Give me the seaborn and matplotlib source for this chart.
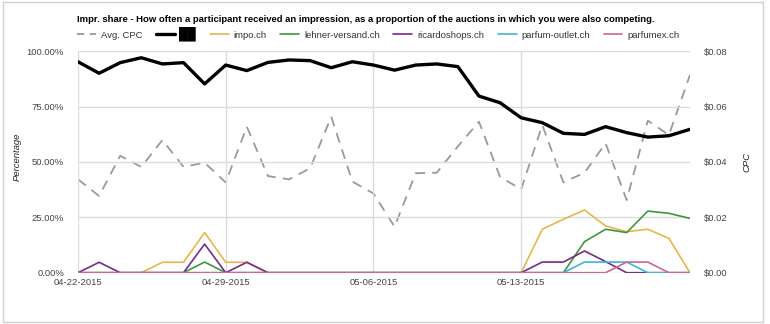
import numpy as np
import pandas as pd
import seaborn as sns
import matplotlib
matplotlib.use("Agg")
import matplotlib.pyplot as plt
from matplotlib.lines import Line2D
from matplotlib.patches import Rectangle

# ---------------- data ----------------
dates = pd.date_range("2015-04-22", "2015-05-21", freq="D")
tick_dates = ["04-22-2015", "04-29-2015", "05-06-2015", "05-13-2015"]

avg_cpc = [0.0337, 0.0277, 0.0422, 0.0382, 0.0479, 0.0382, 0.0397, 0.0326, 0.0527, 0.0349,
           0.0337, 0.0377, 0.0563, 0.0329, 0.0286, 0.0166, 0.0359, 0.0361, 0.0456, 0.0545,
           0.0346, 0.0301, 0.0533, 0.0326, 0.0361, 0.0467, 0.0262, 0.0549, 0.0497, 0.0714]

redacted = [95.2, 90.0, 94.8, 97.0, 94.2, 94.8, 85.2, 93.7, 91.2, 94.9,
            96.0, 95.7, 92.5, 95.2, 93.7, 91.4, 93.7, 94.2, 93.0, 79.7,
            76.7, 69.9, 67.7, 62.9, 62.4, 65.9, 63.2, 61.2, 61.8, 64.7]

impo = [0, 0, 0, 0, 4.7, 4.7, 18.1, 4.7, 4.7, 0,
        0, 0, 0, 0, 0, 0, 0, 0, 0, 0,
        0, 0, 19.6, 24.1, 28.3, 21.1, 18.5, 19.6, 15.5, 0]

lehner = [0, 0, 0, 0, 0, 0, 4.8, 0, 0, 0,
          0, 0, 0, 0, 0, 0, 0, 0, 0, 0,
          0, 0, 0, 0, 14.0, 19.6, 18.1, 27.8, 26.8, 24.5]

ricardo = [0, 4.7, 0, 0, 0, 0, 12.9, 0, 4.7, 0,
           0, 0, 0, 0, 0, 0, 0, 0, 0, 0,
           0, 0, 4.8, 4.8, 9.8, 5.0, 0, 0, 0, 0]

outlet = [0, 0, 0, 0, 0, 0, 0, 0, 0, 0,
          0, 0, 0, 0, 0, 0, 0, 0, 0, 0,
          0, 0, 0, 0, 4.8, 4.8, 4.8, 0, 0, 0]

parfumex = [0, 0, 0, 0, 0, 0, 0, 0, 0, 0,
            0, 0, 0, 0, 0, 0, 0, 0, 0, 0,
            0, 0, 0, 0, 0, 0, 4.8, 4.8, 0, 0]

series_names = ["Avg. CPC", "\u2588\u2588", "impo.ch", "lehner-versand.ch",
                "ricardoshops.ch", "parfum-outlet.ch", "parfumex.ch"]

title = ("Impr. share - How often a participant received an impression, "
         "as a proportion of the auctions in which you were also competing.")

# ---------------- style ----------------
sns.set_theme(style="white")
plt.rcParams["font.family"] = ["Liberation Sans", "DejaVu Sans"]
FS = 6.8

W, H = 770, 324
fig = plt.figure(figsize=(W / 100, H / 100), dpi=100)
ax = fig.add_axes([78 / W, 51.3 / H, 612 / W, 221.6 / H])
ax2 = ax.twinx()

x = np.arange(len(dates))
colors = {
    "cpc": "#9a9a9a",
    "red": "#000000",
    "impo": "#e9b54c",
    "lehner": "#3d993d",
    "ricardo": "#7a2a87",
    "outlet": "#3fb6d6",
    "parfumex": "#d06596",
}

# axes, ticks, gridlines
ax.set_ylim(0, 100)
ax.set_xlim(0, len(dates) - 1)
ax2.set_ylim(0, 0.08)
ax.set_yticks([0, 25, 50, 75, 100])
ax.set_yticklabels(["0.00%", "25.00%", "50.00%", "75.00%", "100.00%"])
ax2.set_yticks([0, 0.02, 0.04, 0.06, 0.08])
ax2.set_yticklabels(["$0.00", "$0.02", "$0.04", "$0.06", "$0.08"])
ax.set_xticks([0, 7, 14, 21])
ax.set_xticklabels(tick_dates)
ax.grid(True, color="#dcdcdc", linewidth=1)
ax2.grid(False)
for a in (ax, ax2):
    for s in a.spines.values():
        s.set_visible(False)
ax.tick_params(axis="both", length=0, labelsize=FS, labelcolor="#444444")
ax.tick_params(axis="y", pad=10)
ax.tick_params(axis="x", pad=4)
ax2.tick_params(axis="y", length=0, labelsize=FS, labelcolor="#444444", pad=10)

# avg cpc on the right axis (drawn behind)
sns.lineplot(x=x, y=avg_cpc, ax=ax2, color=colors["cpc"], linewidth=1.3,
             linestyle=(0, (5.5, 4)), legend=False)
ax.set_zorder(ax2.get_zorder() + 1)
ax.patch.set_visible(False)

lw = 1.2
sns.lineplot(x=x, y=impo, ax=ax, color=colors["impo"], linewidth=lw, legend=False)
sns.lineplot(x=x, y=lehner, ax=ax, color=colors["lehner"], linewidth=lw, legend=False)
sns.lineplot(x=x, y=ricardo, ax=ax, color=colors["ricardo"], linewidth=lw, legend=False)
sns.lineplot(x=x, y=outlet, ax=ax, color=colors["outlet"], linewidth=lw, legend=False)
sns.lineplot(x=x, y=parfumex, ax=ax, color=colors["parfumex"], linewidth=lw, legend=False)
sns.lineplot(x=x, y=redacted, ax=ax, color=colors["red"], linewidth=2.4, legend=False)
ax.set_xlabel("")
ax.set_ylabel("")
ax2.set_ylabel("")

# axis titles
fig.text(17 / W, 1 - 157 / H, "Percentage", rotation=90, style="italic",
         fontsize=FS, color="#222222", ha="center", va="center")
fig.text(747 / W, 1 - 162 / H, "CPC", rotation=90, style="italic",
         fontsize=FS, color="#222222", ha="center", va="center")

# title
fig.text(77 / W, 1 - 19 / H, title, fontsize=FS, fontweight="bold",
         color="#000000", ha="left", va="center")

# legend
handles = [
    Line2D([], [], color=colors["cpc"], linewidth=1.3, linestyle=(0, (4, 3))),
    Line2D([], [], color=colors["red"], linewidth=2.4),
    Line2D([], [], color=colors["impo"], linewidth=1.2),
    Line2D([], [], color=colors["lehner"], linewidth=1.2),
    Line2D([], [], color=colors["ricardo"], linewidth=1.2),
    Line2D([], [], color=colors["outlet"], linewidth=1.2),
    Line2D([], [], color=colors["parfumex"], linewidth=1.2),
]
leg = fig.legend(handles, series_names, loc="center left",
                 bbox_to_anchor=(77 / W, 1 - 34 / H), ncol=7, frameon=False,
                 fontsize=FS, handlelength=2.0, handletextpad=0.5,
                 columnspacing=1.45, borderpad=0, borderaxespad=0)
for t in leg.get_texts():
    t.set_color("#333333")
blob = leg.get_texts()[1]
blob.set_color("#000000")
blob.set_fontsize(8.5)

# outer frame
fig.patches.append(Rectangle((3 / W, 2 / H), 760 / W, 320 / H,
                             transform=fig.transFigure, fill=False,
                             edgecolor="#cfcfcf", linewidth=1))

fig.savefig("out.png", dpi=100)
